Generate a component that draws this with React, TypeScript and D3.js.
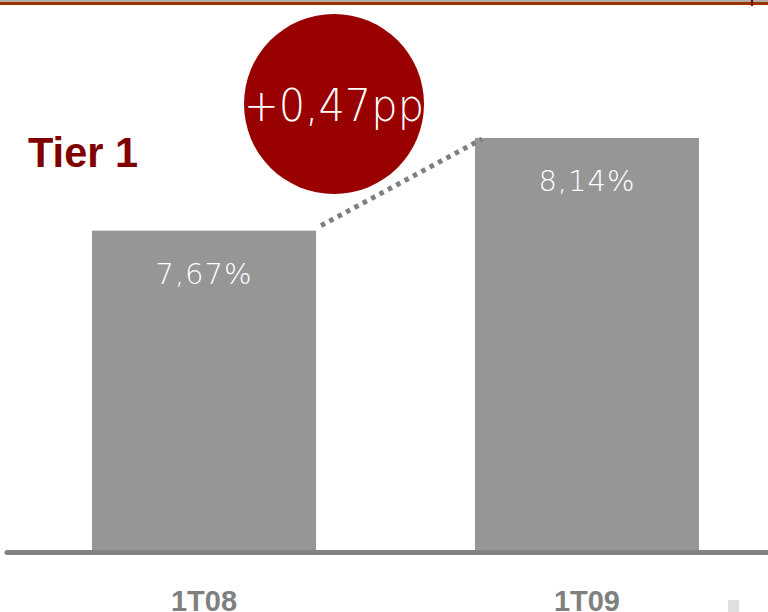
import React from "react";
import * as d3 from "d3";

const categories = ["1T08", "1T09"];
const values = [7.67, 8.14];
const valueLabels = ["7,67%", "8,14%"];
const deltaLabel = "+0,47pp";
const title = "Tier 1";

const W = 768;
const H = 612;

export default function App() {
  const x = d3
    .scaleBand<string>()
    .domain(categories)
    .range([15.4, 775.6])
    .paddingInner(0.415)
    .paddingOuter(0.2);
  const y = d3.scaleLinear().domain([6.05, 8.14]).range([550, 138]);
  const bw = x.bandwidth();
  const x0 = x(categories[0])!;
  const x1 = x(categories[1])!;
  return (
    <svg
      width={W}
      height={H}
      style={{ position: "absolute", left: 0, top: 0, background: "#fff" }}
    >
      <rect x={0} y={0} width={W} height={H} fill="#ffffff" />
      <rect x={0} y={0} width={W} height={2} fill="#b4aca8" />
      <rect x={0} y={2} width={W} height={3} fill="#993300" />
      <rect x={751} y={0} width={2} height={6} fill="#7a0000" />
      {categories.map((c, i) => (
        <g key={c}>
          <rect x={x(c)!} y={y(values[i])} width={bw} height={550 - y(values[i])} fill="#969696" />
          <text
            x={x(c)! + bw / 2}
            y={y(values[i]) + 53}
            textAnchor="middle"
            fill="#ffffff"
            fontFamily="'DejaVu Sans'"
            fontWeight={300}
            fontSize={29}
            style={{ letterSpacing: "1px" }}
          >
            {valueLabels[i]}
          </text>
          <text
            x={x(c)! + bw / 2}
            y={611}
            textAnchor="middle"
            fill="#808080"
            fontFamily="'Liberation Sans', Arial, sans-serif"
            fontWeight="bold"
            fontSize={30}
            textLength={66}
            lengthAdjust="spacingAndGlyphs"
          >
            {c}
          </text>
        </g>
      ))}
      <line x1={7} y1={552.5} x2={W} y2={552.5} stroke="#828282" strokeWidth={5} strokeLinecap="round" />
      <line
        x1={x0 + bw + 5}
        y1={y(values[0]) - 5}
        x2={x1 + 7}
        y2={y(values[1]) + 1}
        stroke="#7f7f7f"
        strokeWidth={5}
        strokeDasharray="4.5 5"
      />
      <circle cx={334} cy={104} r={90} fill="#990000" />
      <text
        x={334}
        y={121}
        textAnchor="middle"
        fill="#ffffff"
        fontFamily="'DejaVu Sans'"
        fontWeight={300}
        fontSize={44}
        textLength={180}
        lengthAdjust="spacingAndGlyphs"
      >
        {deltaLabel}
      </text>
      <text
        x={28}
        y={167}
        fill="#800000"
        fontFamily="'Liberation Sans', Arial, sans-serif"
        fontWeight="bold"
        fontSize={42}
        textLength={110}
        lengthAdjust="spacingAndGlyphs"
      >
        {title}
      </text>
      <rect x={728} y={600} width={11} height={12} fill="#dde0dd" />
    </svg>
  );
}
